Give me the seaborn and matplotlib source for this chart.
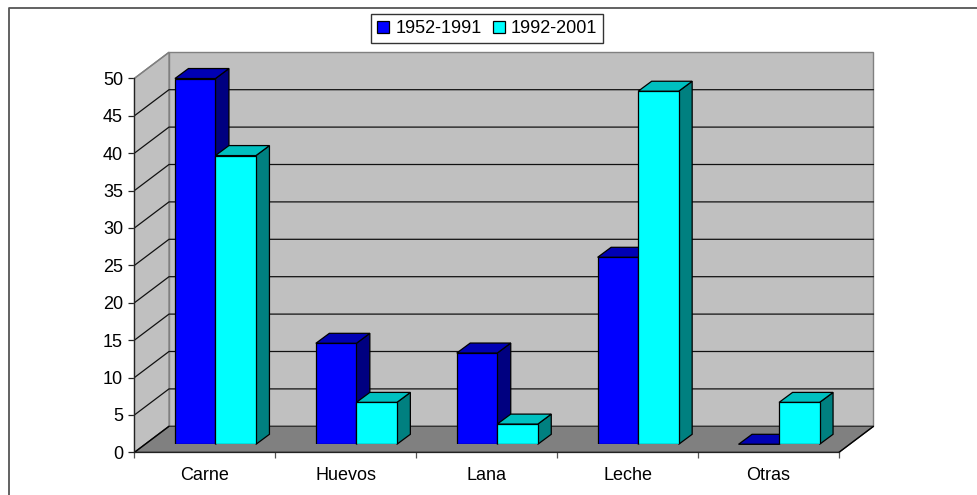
import matplotlib
matplotlib.use('Agg')
import matplotlib.pyplot as plt
import pandas as pd
import seaborn as sns
from matplotlib.lines import Line2D
from matplotlib.patches import Polygon
from matplotlib.transforms import Affine2D

categorias = ['Carne', 'Huevos', 'Lana', 'Leche', 'Otras']
periodo_1 = [48.9, 13.5, 12.2, 25.0, 0.0]
periodo_2 = [38.6, 5.6, 2.7, 47.2, 5.6]
periodos = ['1952-1991', '1992-2001']
ticks_y = list(range(0, 55, 5))

W, H = 978, 495
sns.set_theme(style='white')
plt.rcParams['font.family'] = ['Liberation Sans', 'DejaVu Sans']

fig = plt.figure(figsize=(W / 100, H / 100), dpi=100, facecolor='white')


def caja(left, right, top, bottom):
    # pasar pixeles de la imagen a fracciones de figura
    return [left / W, 1 - bottom / H, (right - left) / W, (bottom - top) / H]


# plano frontal con los ejes, plano de barras desplazado hacia el fondo
ax = fig.add_axes(caja(134.5, 839, 78.3, 452.3), facecolor='none')
ax_bar = fig.add_axes(caja(145, 849.5, 70.3, 444.3), facecolor='none')

ax.set_xlim(-0.5, 4.5)
ax.set_ylim(0, 50)
fondo = ax.transData + Affine2D().translate(34.5, 26)
x0, x1 = -0.5, 4.5


def pared(puntos, color, borde):
    px = []
    for x, y, atras in puntos:
        px.append(fondo.transform((x, y)) if atras else ax.transData.transform((x, y)))
    ax.add_patch(Polygon(px, closed=True, transform=None, facecolor=color,
                         edgecolor=borde, linewidth=1.0, zorder=1, clip_on=False))


def linea(puntos, color, lw):
    xs = [p[0] for p in puntos]
    ys = [p[1] for p in puntos]
    ln = Line2D(xs, ys, transform=None, color=color, linewidth=lw, zorder=2)
    ax.add_artist(ln)
    ln.set_clip_on(False)


# paredes y piso
pared([(x0, 0, 1), (x1, 0, 1), (x1, 50, 1), (x0, 50, 1)], '#c0c0c0', '#808080')
pared([(x0, 0, 0), (x0, 0, 1), (x0, 50, 1), (x0, 50, 0)], '#c0c0c0', '#808080')
pared([(x0, 0, 0), (x1, 0, 0), (x1, 0, 1), (x0, 0, 1)], '#808080', '#333333')

# lineas de division en pared del fondo y pared lateral
for v in ticks_y[1:-1]:
    linea([ax.transData.transform((x0, v)), fondo.transform((x0, v)), fondo.transform((x1, v))],
          '#111111', 0.9)
for x in [x0, x1]:
    linea([ax.transData.transform((x, 0)), fondo.transform((x, 0))], 'black', 0.9)
linea([ax.transData.transform((x0, 50)), fondo.transform((x0, 50))], '#808080', 1.0)

# ejes
ax.set_yticks(ticks_y)
ax.set_xticks([-0.5, 0.5, 1.5, 2.5, 3.5, 4.5])
ax.set_xticklabels([])
ax.set_xticks(range(5), categorias, minor=True)
ax.tick_params(axis='y', which='major', left=True, length=4.3, width=0.9, color='#222222',
               labelsize=13, pad=4, labelcolor='black')
ax.tick_params(axis='x', which='major', bottom=True, length=4.3, width=0.9, color='#555555')
ax.tick_params(axis='x', which='minor', bottom=False, length=0, labelsize=13, pad=10.5,
               labelcolor='black')
ax.grid(False)
sns.despine(ax=ax)
for lado in ['left', 'bottom']:
    ax.spines[lado].set_color('#222222')
    ax.spines[lado].set_linewidth(0.9)
    ax.spines[lado].set_zorder(3)

# barras
datos = pd.DataFrame({
    'categoria': categorias * 2,
    'valor': periodo_1 + periodo_2,
    'periodo': [periodos[0]] * 5 + [periodos[1]] * 5,
})
sns.barplot(data=datos, x='categoria', y='valor', hue='periodo', hue_order=periodos,
            palette=['#0000ff', '#00ffff'], saturation=1, width=0.575, gap=0,
            edgecolor='black', linewidth=0.9, legend=False, ax=ax_bar)
ax_bar.set_xlim(-0.5, 4.5)
ax_bar.set_ylim(0, 50)
ax_bar.axis('off')
ax_bar.set_zorder(ax.get_zorder() + 1)

# profundidad de cada barra
fx = 13.5 / (704.5 / 5)
fy = 10 / (374 / 50)
colores = [('#000080', '#0000b4'), ('#008080', '#00c0c0')]
for i, cont in enumerate(ax_bar.containers):
    lado_c, tapa_c = colores[i]
    for rect in cont:
        rect.set_zorder(4 + 2 * i)
        xa, w, h = rect.get_x(), rect.get_width(), rect.get_height()
        lado = [(xa + w, 0), (xa + w + fx, fy), (xa + w + fx, h + fy), (xa + w, h)]
        tapa = [(xa, h), (xa + fx, h + fy), (xa + w + fx, h + fy), (xa + w, h)]
        for pts, col in [(lado, lado_c), (tapa, tapa_c)]:
            ax_bar.add_patch(Polygon(pts, closed=True, facecolor=col, edgecolor='black',
                                     linewidth=0.9, zorder=3 + 2 * i, clip_on=False))

# leyenda
leg = fig.legend([c[0] for c in ax_bar.containers], periodos, ncol=2, loc='center',
                 bbox_to_anchor=(487.3 / W, 1 - 28.7 / H), bbox_transform=fig.transFigure,
                 fontsize=13, frameon=True, fancybox=False, framealpha=1, edgecolor='#333333',
                 handlelength=0.67, handleheight=0.62, handletextpad=0.35, columnspacing=0.6,
                 borderpad=0.32, borderaxespad=0, labelcolor='black')
leg.get_frame().set_linewidth(1.0)
leg.set_zorder(10)

# marco exterior
fig.add_artist(Line2D([8.5 / W, 8.5 / W, 1], [0, 1 - 7.5 / H, 1 - 7.5 / H],
                      transform=fig.transFigure, color='#555555', linewidth=1.3))

fig.savefig('out.png', dpi=100, facecolor='white')
